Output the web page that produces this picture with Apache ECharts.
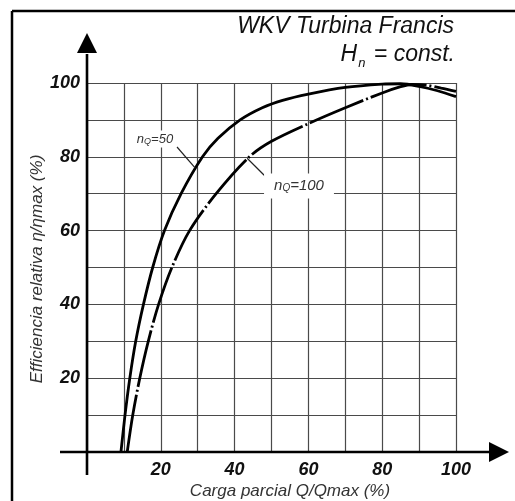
<!DOCTYPE html>
<html>
<head>
<meta charset="utf-8">
<script src="https://cdn.jsdelivr.net/npm/echarts@6/dist/echarts.min.js"></script>
<style>
  html, body { margin: 0; padding: 0; background: #fff; }
  #chart { width: 515px; height: 501px; }
</style>
</head>
<body>
<div id="chart"></div>
<script>
// Axis ticks that carry a printed label
const xTickLabels = [20, 40, 60, 80, 100];
const yTickLabels = [20, 40, 60, 80, 100];

// Partial load Q/Qmax (%) and relative efficiency (%) for n_Q = 50
const loadNq50 = [9.2, 10.3, 11.6, 13.2, 15.3, 17.8, 21.0, 25.5, 31.3, 35.5, 41.5, 47.5, 53.0, 60, 70, 80, 85, 90, 95, 100];
const effNq50  = [0, 10, 20, 30, 40, 50, 60, 70, 80, 85, 90, 93.3, 95.3, 97.0, 98.8, 99.7, 99.8, 99.1, 97.9, 96.3];

// Partial load Q/Qmax (%) and relative efficiency (%) for n_Q = 100
const loadNq100 = [10.9, 12.4, 14.3, 16.6, 19.4, 23.0, 27.8, 35.0, 44.0, 50, 60, 70, 80, 85, 88, 92, 96, 100];
const effNq100  = [0, 10, 20, 30, 40, 50, 60, 70, 80, 84.2, 89.0, 93.3, 97.3, 99.0, 99.6, 99.4, 98.6, 97.7];

const FONT = "'Liberation Sans', Arial, Helvetica, sans-serif";
const pairs = (xs, ys) => xs.map((x, i) => [x, ys[i]]);

const chart = echarts.init(document.getElementById('chart'), null, { renderer: 'canvas' });

const tickLabel = (list) => (v) => (list.indexOf(v) >= 0 ? String(v) : '');

chart.setOption({
  animation: false,
  backgroundColor: '#fff',
  grid: { left: 87, top: 83, width: 369, height: 369, containLabel: false },
  xAxis: {
    type: 'value', min: 0, max: 100, interval: 10,
    axisLine: { show: false }, axisTick: { show: false },
    splitLine: { show: true, lineStyle: { color: '#4a4a4a', width: 1.2 } },
    axisLabel: {
      formatter: tickLabel(xTickLabels), margin: 9,
      fontFamily: FONT, fontSize: 18, fontStyle: 'italic', fontWeight: 'bold', color: '#111'
    }
  },
  yAxis: {
    type: 'value', min: 0, max: 100, interval: 10,
    axisLine: { show: false }, axisTick: { show: false },
    splitLine: { show: true, lineStyle: { color: '#4a4a4a', width: 1.2 } },
    axisLabel: {
      formatter: tickLabel(yTickLabels), margin: 7,
      fontFamily: FONT, fontSize: 18, fontStyle: 'italic', fontWeight: 'bold', color: '#111'
    }
  },
  series: [
    {
      name: 'nQ=50', type: 'line', data: pairs(loadNq50, effNq50),
      smooth: 0.3, symbol: 'none', z: 5,
      lineStyle: { color: '#000', width: 2.8 }
    },
    {
      name: 'nQ=100', type: 'line', data: pairs(loadNq100, effNq100),
      smooth: 0.3, symbol: 'none', z: 5,
      lineStyle: { color: '#000', width: 2.8, type: [58, 3, 2, 3] }
    }
  ]
});

// Decorations: extended axes with arrow heads, frame, titles, axis names, curve labels
const px = (x, y) => chart.convertToPixel({ gridIndex: 0 }, [x, y]);
const o = px(0, 0);
const tr = px(100, 100);

const p50 = px(29.3, 77);     // point on the n_Q=50 curve where its leader ends
const p100 = px(43.4, 79.6);  // point on the n_Q=100 curve where its leader starts

const line = (x1, y1, x2, y2, w, color) => ({
  type: 'line', silent: true, z: 20,
  shape: { x1, y1, x2, y2 },
  style: { stroke: color || '#000', lineWidth: w }
});

chart.setOption({
  graphic: [
    // frame
    line(12, 11, 515, 11, 2.5),
    line(12, 11, 12, 501, 2.5),
    // x axis
    line(o[0] - 27, o[1], tr[0] + 34, o[1], 2.6),
    {
      type: 'polygon', silent: true, z: 21,
      shape: { points: [[tr[0] + 33, o[1] - 10], [tr[0] + 53, o[1]], [tr[0] + 33, o[1] + 10]] },
      style: { fill: '#000' }
    },
    // y axis
    line(o[0], o[1] + 23, o[0], tr[1] - 29, 2.6),
    {
      type: 'polygon', silent: true, z: 21,
      shape: { points: [[o[0] - 10, tr[1] - 30], [o[0], tr[1] - 50], [o[0] + 10, tr[1] - 30]] },
      style: { fill: '#000' }
    },
    // titles
    {
      type: 'text', silent: true, z: 22, x: 454, y: 27,
      style: {
        text: 'WKV Turbina Francis', align: 'right', verticalAlign: 'middle',
        font: 'italic 23px ' + FONT, fill: '#111'
      }
    },
    {
      type: 'text', silent: true, z: 22, x: 455, y: 55,
      style: {
        text: '{m|H}{s|n}{m| = const.}', align: 'right', verticalAlign: 'middle',
        rich: {
          m: { font: 'italic 23px ' + FONT, fill: '#111', verticalAlign: 'middle' },
          s: { font: 'italic 13px ' + FONT, fill: '#111', padding: [16, 2, 0, 1] }
        }
      }
    },
    // axis names
    {
      type: 'text', silent: true, z: 22, x: 37, y: 269, rotation: Math.PI / 2,
      style: {
        text: 'Efficiencia relativa \u03b7/\u03b7max (%)', align: 'center', verticalAlign: 'middle',
        font: 'italic 17px ' + FONT, fill: '#333'
      }
    },
    {
      type: 'text', silent: true, z: 22, x: 290, y: 491,
      style: {
        text: 'Carga parcial Q/Qmax (%)', align: 'center', verticalAlign: 'middle',
        font: 'italic 17px ' + FONT, fill: '#333'
      }
    },
    // curve labels and leaders
    line(177, 147, p50[0], p50[1], 1.2, '#222'),
    {
      type: 'text', silent: true, z: 23, x: 155, y: 139,
      style: {
        text: '{n|n}{q|Q}{n|=50}', align: 'center', verticalAlign: 'middle',
        backgroundColor: '#fff', padding: [2, 3, 2, 3],
        rich: {
          n: { font: 'italic 13px ' + FONT, fill: '#333' },
          q: { font: 'italic 9px ' + FONT, fill: '#333', padding: [4, 0, 0, 0] }
        }
      }
    },
    line(p100[0], p100[1], 273, 184, 1.2, '#222'),
    {
      type: 'text', silent: true, z: 23, x: 299, y: 186,
      style: {
        text: '{n|n}{q|Q}{n|=100}', align: 'center', verticalAlign: 'middle',
        backgroundColor: '#fff', padding: [5, 10, 5, 10],
        rich: {
          n: { font: 'italic 15px ' + FONT, fill: '#333' },
          q: { font: 'italic 10px ' + FONT, fill: '#333', padding: [5, 0, 0, 0] }
        }
      }
    }
  ]
});
</script>
</body>
</html>
